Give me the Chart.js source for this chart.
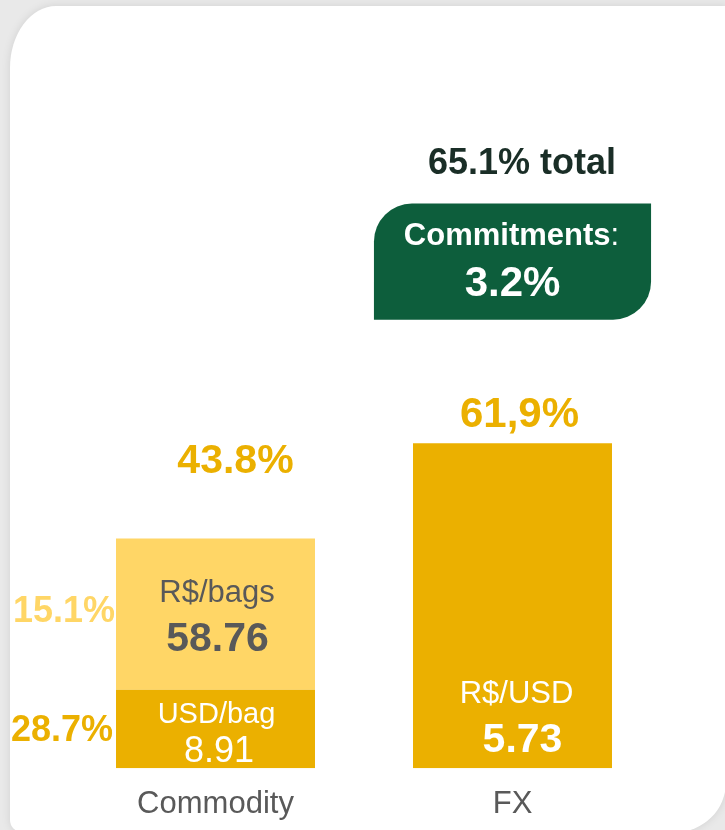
<!DOCTYPE html>
<html>
<head>
<meta charset="utf-8">
<script src="https://cdn.jsdelivr.net/npm/chart.js@4.4.0/dist/chart.umd.min.js"></script>
<style>
  html, body { margin: 0; padding: 0; width: 725px; height: 830px; overflow: hidden; background: #e9e9e9; }
  #card {
    position: absolute; left: 10px; top: 6px; width: 716px; height: 826px;
    background: #fff;
    border-radius: 46px 0 50px 12px / 62px 0 50px 12px;
    box-shadow: 0 0 10px rgba(0, 0, 0, 0.10);
  }
  #chart { position: absolute; left: 0; top: 0; }
</style>
</head>
<body>
<div id="card"></div>
<canvas id="chart" width="725" height="849"></canvas>
<script>
const categories = ['Commodity', 'FX'];

// segment heights as drawn in the picture (the bars are not to scale with the shares)
const usdBagSeg = [7.85, null];
const brlBagSeg = [15.1, null];
const fxSeg = [null, 32.45];
const commitmentsBox = [null, [44.8, 56.4]];

const shareLabels = ['28.7%', '15.1%', '43.8%', '61,9%'];
const unitLabels = ['USD/bag', 'R$/bags', 'R$/USD'];
const unitValues = ['8.91', '58.76', '5.73'];
const totalLabel = '65.1% total';
const commitmentsLabel = 'Commitments';
const commitmentsValue = '3.2%';

const DARK_YELLOW = '#ebb000';
const LIGHT_YELLOW = '#ffd666';
const GREEN = '#0d5e3c';
const GREY = '#595959';
const FONT = '"Liberation Sans", Arial, sans-serif';

function txt(ctx, s, x, y, size, weight, color, align) {
  ctx.font = weight + ' ' + size + 'px ' + FONT;
  ctx.fillStyle = color;
  ctx.textAlign = align || 'center';
  ctx.textBaseline = 'alphabetic';
  ctx.fillText(s, x, y);
}

const labelPlugin = {
  id: 'barLabels',
  afterDatasetsDraw(chart) {
    const ctx = chart.ctx;
    const low = chart.getDatasetMeta(0).data[0];
    const up = chart.getDatasetMeta(1).data[0];
    const fx = chart.getDatasetMeta(2).data[1];
    const box = chart.getDatasetMeta(3).data[1];
    ctx.save();

    // commodity, lower segment
    txt(ctx, unitLabels[0], low.x + 1, low.y + 33, 29, 'normal', '#fff');
    txt(ctx, unitValues[0], low.x + 3.5, low.y + 72, 36, 'normal', '#fff');
    txt(ctx, shareLabels[0], low.x - low.width / 2 - 3, (low.y + low.base) / 2 + 12, 36, 'bold', DARK_YELLOW, 'right');

    // commodity, upper segment
    txt(ctx, unitLabels[1], up.x + 1.5, up.y + 64, 31, 'normal', GREY);
    txt(ctx, unitValues[1], up.x + 2, up.y + 113, 41, 'bold', GREY);
    txt(ctx, shareLabels[1], up.x - up.width / 2 - 1, up.y + 84, 36, 'bold', LIGHT_YELLOW, 'right');
    txt(ctx, shareLabels[2], up.x + 20, up.y - 65, 41, 'bold', DARK_YELLOW);

    // FX
    txt(ctx, shareLabels[3], fx.x + 7, fx.y - 16.5, 42, 'bold', DARK_YELLOW);
    txt(ctx, unitLabels[2], fx.x + 4, fx.base - 65, 31, 'normal', '#fff');
    txt(ctx, unitValues[2], fx.x + 10, fx.base - 16, 41, 'bold', '#fff');

    // commitments box
    txt(ctx, totalLabel, box.x + 9.5, box.y - 30, 36, 'bold', '#1a2e27');
    ctx.font = 'bold 31px ' + FONT;
    const w1 = ctx.measureText(commitmentsLabel).width;
    ctx.font = 'normal 31px ' + FONT;
    const w2 = ctx.measureText(':').width;
    const sx = box.x - 1 - (w1 + w2) / 2;
    txt(ctx, commitmentsLabel, sx, box.y + 41.7, 31, 'bold', '#fff', 'left');
    txt(ctx, ':', sx + w1, box.y + 41.7, 31, 'normal', '#fff', 'left');
    txt(ctx, commitmentsValue, box.x, box.y + 92, 42, 'bold', '#fff');

    ctx.restore();
  }
};

Chart.defaults.font.family = FONT;

new Chart(document.getElementById('chart').getContext('2d'), {
  type: 'bar',
  data: {
    labels: categories,
    datasets: [
      { label: 'USD/bag', data: usdBagSeg, backgroundColor: DARK_YELLOW, stack: 'main',
        grouped: false, barPercentage: 0.67, categoryPercentage: 1 },
      { label: 'R$/bags', data: brlBagSeg, backgroundColor: LIGHT_YELLOW, stack: 'main',
        grouped: false, barPercentage: 0.67, categoryPercentage: 1 },
      { label: 'R$/USD', data: fxSeg, backgroundColor: DARK_YELLOW, stack: 'main',
        grouped: false, barPercentage: 0.67, categoryPercentage: 1 },
      { label: 'Commitments', data: commitmentsBox, backgroundColor: GREEN, stack: 'box',
        grouped: false, barPercentage: 0.933, categoryPercentage: 1,
        borderSkipped: false,
        borderRadius: { topLeft: 38, topRight: 0, bottomLeft: 0, bottomRight: 38 } }
    ]
  },
  options: {
    responsive: false,
    animation: false,
    layout: { padding: { left: 67, right: 64, top: 167.5, bottom: 7.5 } },
    plugins: { legend: { display: false }, tooltip: { enabled: false } },
    scales: {
      x: {
        stacked: true,
        grid: { display: false, drawTicks: false },
        border: { display: false },
        ticks: { color: GREY, font: { size: 31 }, padding: 18 }
      },
      y: {
        stacked: true,
        display: false,
        min: 0,
        max: 60
      }
    }
  },
  plugins: [labelPlugin]
});
</script>
</body>
</html>
